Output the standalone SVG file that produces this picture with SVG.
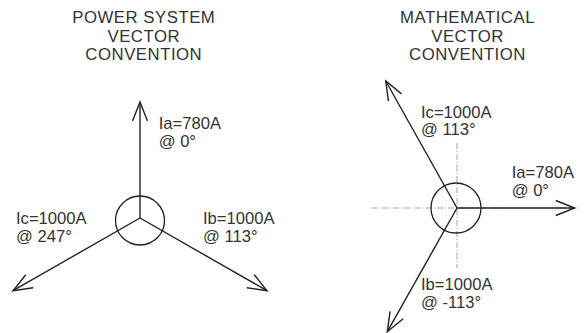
<svg xmlns="http://www.w3.org/2000/svg" width="586" height="333" viewBox="0 0 586 333">
<style>
text{font-family:"Liberation Sans",Arial,sans-serif;fill:#333;font-size:16.6px}
.t{text-anchor:middle;letter-spacing:0.5px;font-size:16.8px}
.v{stroke:#222;stroke-width:1.4;fill:none}
.c{stroke:#222;stroke-width:1.3;fill:none}
.ax{stroke:#999;stroke-width:0.9;stroke-dasharray:6 2 1 2;fill:none}
</style>
<defs>
<marker id="ah" markerUnits="userSpaceOnUse" viewBox="-20 -10 22 20" refX="0" refY="0" markerWidth="22" markerHeight="20" orient="auto">
<path d="M-19,-7.5 L0,0 L-19,7.5" fill="none" stroke="#222" stroke-width="1.4"/>
</marker>
</defs>
<g id="title-left">
<text class="t" x="143.8" y="23.3">POWER SYSTEM</text>
<text class="t" x="143.8" y="41.7">VECTOR</text>
<text class="t" x="143.8" y="60">CONVENTION</text>
</g>
<g id="title-right">
<text class="t" x="467.5" y="23.3">MATHEMATICAL</text>
<text class="t" x="467.5" y="41.7">VECTOR</text>
<text class="t" x="467.5" y="60">CONVENTION</text>
</g>
<g id="axes">
<line class="ax" x1="371" y1="208" x2="580" y2="208"/>
<line class="ax" x1="457" y1="143" x2="457" y2="268"/>
</g>
<g id="hub-left"><circle class="c" cx="140" cy="220.5" r="24.5"/></g>
<g id="hub-right"><circle class="c" cx="456" cy="208" r="25"/></g>
<g id="connectors">
<line class="v" x1="140" y1="218" x2="140" y2="102" marker-end="url(#ah)"/>
<line class="v" x1="140" y1="218" x2="267" y2="290.7" marker-end="url(#ah)"/>
<line class="v" x1="140" y1="218" x2="13" y2="290.7" marker-end="url(#ah)"/>
<line class="v" x1="457" y1="208" x2="574.7" y2="208" marker-end="url(#ah)"/>
<line class="v" x1="457" y1="208" x2="385.7" y2="81" marker-end="url(#ah)"/>
<line class="v" x1="457" y1="208" x2="387.3" y2="331.7" marker-end="url(#ah)"/>
</g>
<g id="label-ia-left"><text x="158.7" y="129.3">Ia=780A</text><text x="158.7" y="146.7">@ 0°</text></g>
<g id="label-ic-left"><text x="16" y="224">Ic=1000A</text><text x="16" y="241.7">@ 247°</text></g>
<g id="label-ib-left"><text x="203" y="224">Ib=1000A</text><text x="203" y="241.7">@ 113°</text></g>
<g id="label-ic-right"><text x="421" y="117.7">Ic=1000A</text><text x="421" y="135">@ 113°</text></g>
<g id="label-ia-right"><text x="511.7" y="178">Ia=780A</text><text x="511.7" y="195.5">@ 0°</text></g>
<g id="label-ib-right"><text x="421" y="290">Ib=1000A</text><text x="421" y="308.3">@ -113°</text></g>
</svg>
